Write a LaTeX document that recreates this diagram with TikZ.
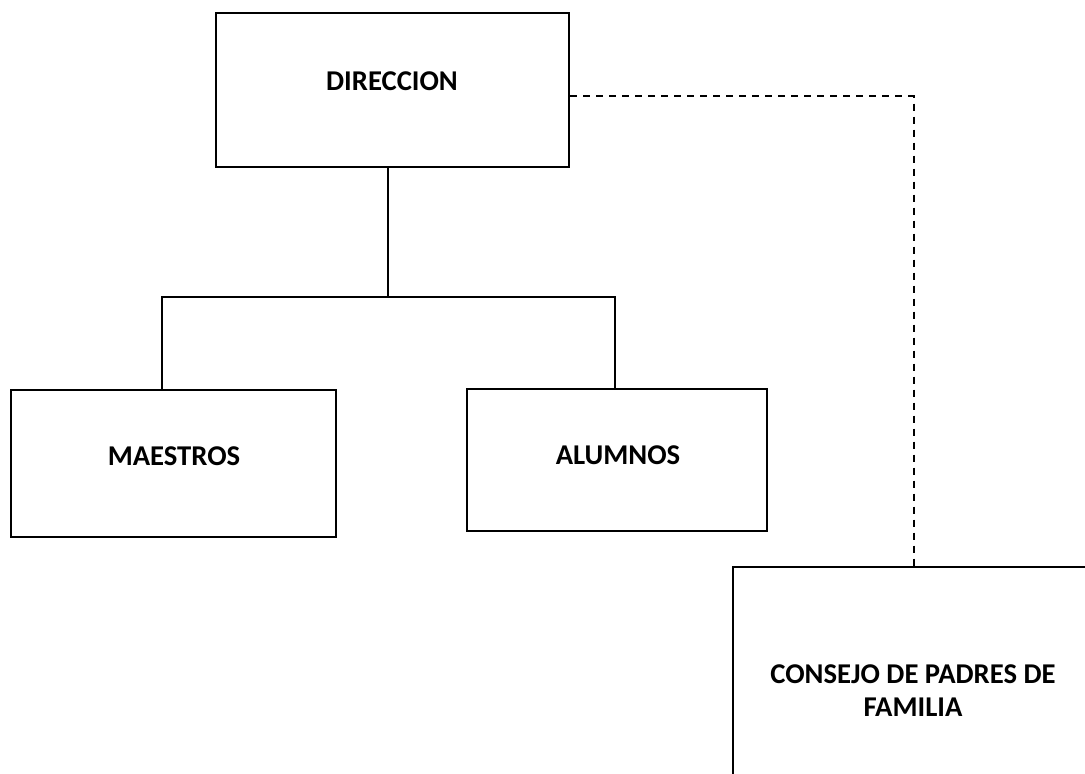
\documentclass[tikz,border=0pt]{standalone}
\usepackage{fontspec}
\setmainfont{Carlito}
\begin{document}
\begin{tikzpicture}[x=0.75pt,y=-0.75pt,
  box/.style={draw=black,line width=1.6pt,rectangle,inner sep=0pt,fill=none},
  lbl/.style={inner sep=0pt,anchor=north,align=center,font=\fontsize{21.5}{24.75}\selectfont\bfseries},
  conn/.style={draw=black,line width=1.2pt},
  dconn/.style={draw=black,line width=1.2pt,dash pattern=on 5.25pt off 4.5pt}]
\useasboundingbox (0,0) rectangle (1085,774);
\clip (0,0) rectangle (1085,774);
\fill[white] (0,0) rectangle (1085,774);
% boxes
\node[box,minimum width=264.75pt,minimum height=115.5pt] (dir) at (392.5,89.7) {};
\node[box,minimum width=243.75pt,minimum height=110.25pt] (mae) at (173.5,463.5) {};
\node[box,minimum width=225pt,minimum height=106.5pt] (alu) at (617,460) {};
\node[box,minimum width=300pt,minimum height=195pt] (cons) at (933,697) {};
% labels
\node[lbl] (tdir) at (392,71) {DIRECCION};
\node[lbl] (tmae) at (174,446.7) {MAESTROS};
\node[lbl] (talu) at (618,445.7) {ALUMNOS};
\node[lbl] (tcons) at (913,664) {CONSEJO DE PADRES DE\\FAMILIA};
% connector coordinates
\coordinate (j) at (388,297);
\coordinate (ml) at (161.7,297);
\coordinate (ar) at (615,297);
\coordinate (dl) at (913.7,96.3);
% solid connectors
\draw[conn] (dir.south -| j) -- (j);
\draw[conn] (mae.north -| ml) -- (ml) -- (ar) -- (alu.north -| ar);
% dashed connector
\draw[dconn] (dir.east |- dl) -- (dl) -- (cons.north -| dl);
\end{tikzpicture}
\end{document}
